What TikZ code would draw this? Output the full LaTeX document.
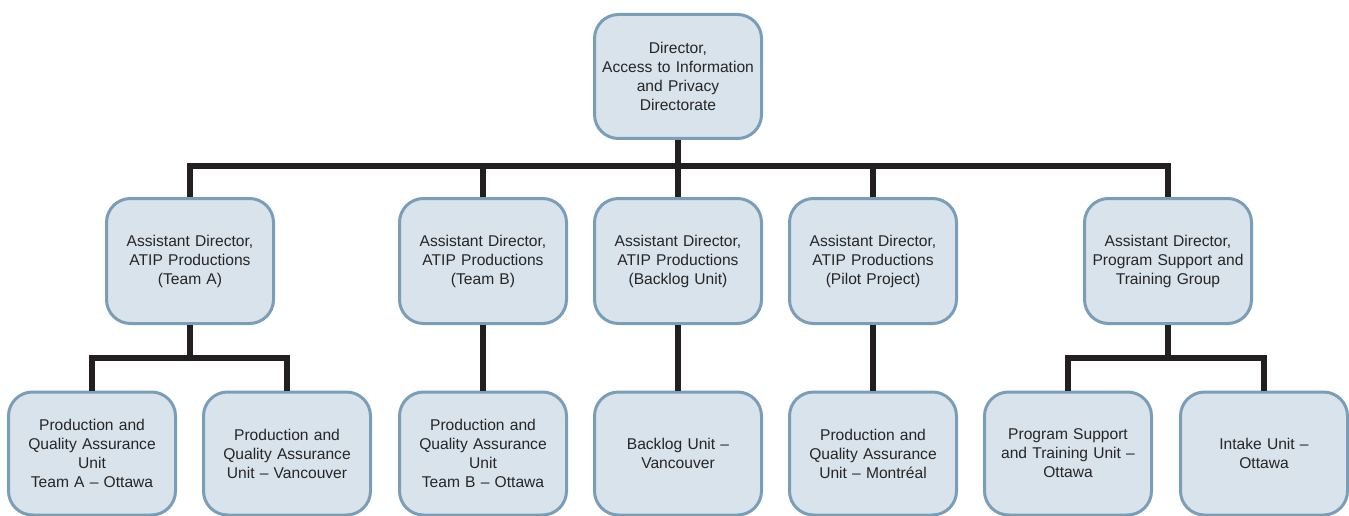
\documentclass[tikz,border=0pt]{standalone}
\usepackage{fontspec}
\setmainfont{Liberation Sans}
\definecolor{boxfill}{RGB}{217,227,236}
\definecolor{boxline}{RGB}{122,158,184}
\definecolor{conncol}{RGB}{35,31,32}
\begin{document}
\begin{tikzpicture}[x=1pt,y=-1pt,
  unit/.style={draw=boxline,fill=boxfill,line width=3pt,rounded corners=24pt,
    minimum width=167pt,inner sep=0pt,text width=160pt,align=center,
    font=\fontsize{15.6pt}{19pt}\selectfont,text=black!85},
  toprow/.style={unit,minimum height=124pt},
  midrow/.style={unit,minimum height=125pt},
  botrow/.style={unit,minimum height=123pt},
  conn/.style={draw=conncol,line width=6pt,line join=miter}]
\useasboundingbox (0,0) rectangle (1349,516);
% nodes
\node[toprow] (dir) at (678,76.5) {Director,\\Access to Information\\and Privacy\\Directorate};
\node[midrow] (ada) at (190,261) {Assistant Director,\\ATIP Productions\\(Team A)};
\node[midrow] (adb) at (483,261) {Assistant Director,\\ATIP Productions\\(Team B)};
\node[midrow] (adbl) at (678,261) {Assistant Director,\\ATIP Productions\\(Backlog Unit)};
\node[midrow] (adpp) at (873,261) {Assistant Director,\\ATIP Productions\\(Pilot Project)};
\node[midrow] (adps) at (1168,261) {Assistant Director,\\Program Support and\\Training Group};
\node[botrow] (pqa) at (92,453.5) {Production and\\Quality Assurance\\Unit\\Team A – Ottawa};
\node[botrow] (pqv) at (287,453.5) {Production and\\Quality Assurance\\Unit – Vancouver};
\node[botrow] (pqb) at (483,453.5) {Production and\\Quality Assurance\\Unit\\Team B – Ottawa};
\node[botrow] (blv) at (678,453.5) {Backlog Unit –\\Vancouver};
\node[botrow] (pqm) at (873,453.5) {Production and\\Quality Assurance\\Unit – Montréal};
\node[botrow] (pst) at (1068,453.5) {Program Support\\and Training Unit –\\Ottawa};
\node[botrow] (iuo) at (1264,453.5) {Intake Unit –\\Ottawa};
% connectors
\draw[conn] (dir.south) -- ++(0,28);
\draw[conn] (ada.north) -- ++(0,-31) -| (adps.north);
\draw[conn] (adb.north) -- ++(0,-31);
\draw[conn] (adbl.north) -- ++(0,-31);
\draw[conn] (adpp.north) -- ++(0,-31);
\draw[conn] (ada.south) -- ++(0,33);
\draw[conn] (pqa.north) -- ++(0,-33) -| (pqv.north);
\draw[conn] (adb.south) -- (pqb.north);
\draw[conn] (adbl.south) -- (blv.north);
\draw[conn] (adpp.south) -- (pqm.north);
\draw[conn] (adps.south) -- ++(0,33);
\draw[conn] (pst.north) -- ++(0,-33) -| (iuo.north);
\end{tikzpicture}
\end{document}
